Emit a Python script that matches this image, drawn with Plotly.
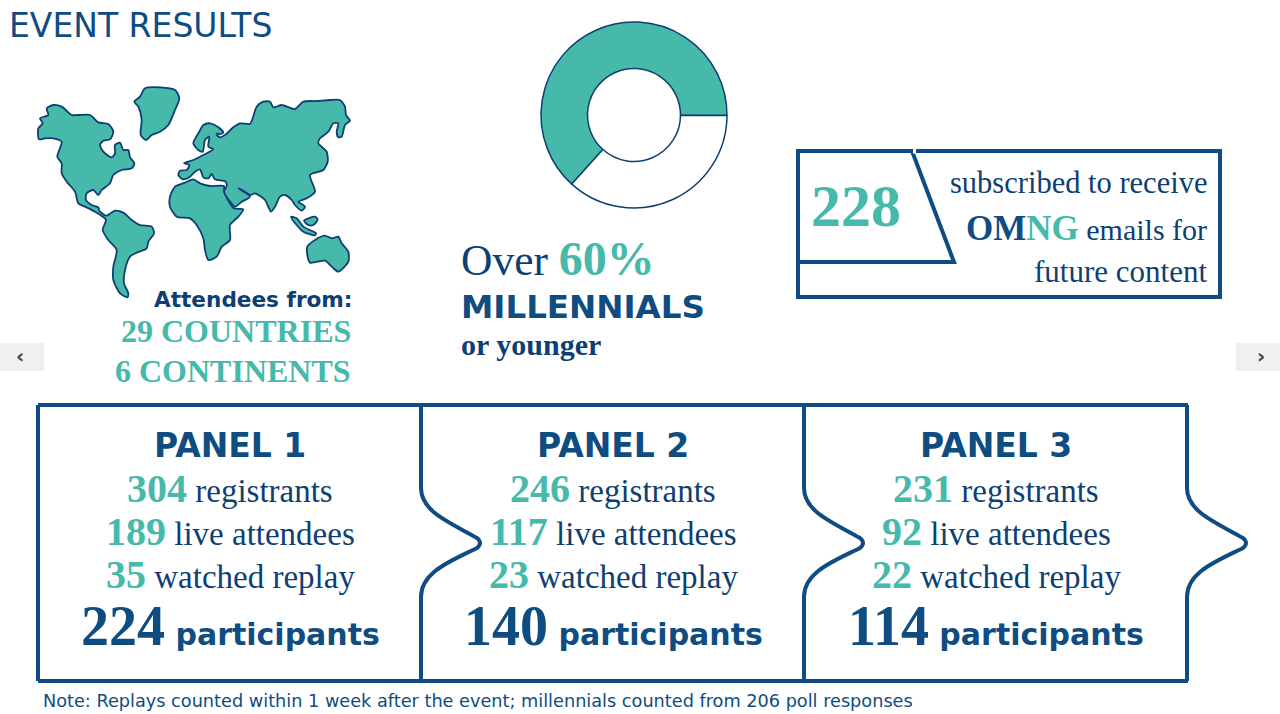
"""
Event results infographic: world map, millennial donut, subscribers box, three panels
"""
import plotly.graph_objects as go

TEAL = '#46B9AB'
NAVY = '#0F4C81'
DARK = '#0E3F73'
SERIF = 'Liberation Serif'
SANS = 'DejaVu Sans'

# donut
donut_labels = ['Millennials or younger', 'Older']
donut_values = [63.4, 36.6]

# panels
panel_names = ['PANEL 1', 'PANEL 2', 'PANEL 3']
registrants = [304, 246, 231]
live_attendees = [189, 117, 92]
watched_replay = [35, 23, 22]
participants = [224, 140, 114]

# map outlines
north_america = [(80, 115), (100, 105), (125, 110), (155, 135), (175, 135), (210, 135), (235, 157), (265, 162),
                 (280, 185), (270, 208), (250, 212), (240, 225), (250, 245), (275, 262), (285, 250), (285, 225),
                 (300, 218), (310, 240), (325, 240), (330, 262), (343, 280), (335, 295), (305, 300), (280, 315),
                 (270, 340), (245, 360), (235, 375), (220, 360), (200, 370), (198, 390), (215, 405), (235, 412),
                 (238, 422), (258, 437), (285, 422), (310, 428), (335, 450), (360, 465), (395, 470), (402, 490),
                 (385, 515), (380, 535), (350, 548), (330, 560), (315, 600), (312, 640), (325, 670), (322, 682),
                 (300, 670), (280, 630), (280, 590), (290, 540), (265, 510), (248, 480), (258, 450), (245, 438),
                 (225, 425), (195, 410), (175, 400), (165, 365), (140, 335), (125, 310), (125, 280), (112, 260),
                 (125, 215), (100, 205), (75, 205), (57, 208), (55, 175), (68, 160), (60, 145), (85, 135), (80, 115)]
greenland = [(375, 55), (420, 52), (465, 60), (478, 85), (465, 120), (445, 165), (420, 185), (395, 195), (378, 210),
             (362, 195), (365, 150), (355, 110), (343, 95), (360, 80), (375, 55)]
eurasia = [(520, 220), (538, 185), (550, 165), (570, 160), (595, 172), (610, 188), (598, 193), (592, 190), (590, 195),
           (600, 202), (615, 195), (640, 172), (660, 160), (690, 162), (698, 145), (710, 110), (730, 95), (750, 95),
           (760, 112), (785, 105), (825, 117), (850, 95), (890, 93), (930, 90), (960, 90), (975, 110), (978, 135),
           (990, 152), (975, 165), (965, 200), (955, 202), (950, 185), (955, 160), (940, 160), (925, 185), (900, 205),
           (895, 220), (920, 245), (923, 275), (910, 300), (870, 315), (885, 365), (860, 385), (835, 395), (855, 410),
           (845, 422), (825, 405), (815, 390), (795, 375), (780, 380), (765, 410), (753, 425), (735, 390), (705, 370),
           (690, 375), (675, 365), (655, 355), (690, 380), (665, 395), (645, 410), (630, 395), (612, 365), (620, 348),
           (617, 335), (585, 328), (575, 312), (565, 325), (550, 322), (540, 298), (525, 305), (508, 322), (488, 328),
           (475, 315), (480, 302), (500, 300), (508, 285), (492, 280), (520, 270), (550, 255), (580, 238), (565, 230),
           (568, 200), (555, 210), (548, 245), (535, 240), (520, 220)]
africa = [(450, 380), (465, 350), (495, 338), (520, 328), (540, 340), (570, 348), (612, 348), (612, 365), (642, 415),
          (670, 418), (655, 440), (630, 465), (630, 510), (605, 530), (590, 560), (565, 570), (555, 540), (550, 505),
          (530, 465), (510, 445), (470, 440), (450, 410), (450, 380)]
sumatra = [(813, 440), (830, 445), (850, 470), (888, 490), (885, 496), (850, 485), (830, 465), (813, 440)]
borneo = [(852, 452), (885, 440), (893, 448), (880, 465), (865, 465), (852, 452)]
australia = [(862, 530), (885, 510), (915, 497), (935, 505), (955, 500), (965, 520), (985, 545), (985, 575), (955, 605),
             (935, 590), (915, 572), (870, 578), (862, 555), (862, 530)]
land_masses = [north_america, greenland, eurasia, africa, sumatra, borneo, australia]


def span(text, color, family=SERIF, size=None, bold=False):
    style = f'color:{color};font-family:{family}'
    if size:
        style += f';font-size:{size}px'
    body = f'<b>{text}</b>' if bold else text
    return f'<span style="{style}">{body}</span>'


def label(fig, x, y, text, size, color=NAVY, family=SERIF, anchor='center'):
    fig.add_annotation(x=x, y=y, text=text, showarrow=False, xanchor=anchor, yanchor='middle',
                       font=dict(family=family, size=size, color=color), xref='x', yref='y')


def tab_path(x):
    """Panel divider: straight edge with an arrow tab sticking out to the right"""
    return (f'M {x} 405 L {x} 488 C {x} 512 {x + 30} 523 {x + 56} 538 Q {x + 62} 543 {x + 56} 548 '
            f'C {x + 30} 561 {x} 572 {x} 597 L {x} 681')


fig = go.Figure()

for land in land_masses:
    fig.add_trace(go.Scatter(
        x=[20 + p[0] / 3 for p in land], y=[70 + p[1] / 3 for p in land],
        mode='lines', fill='toself', fillcolor=TEAL, hoverinfo='skip',
        line=dict(color=DARK, width=1.8, shape='spline', smoothing=0.7)
    ))

fig.add_trace(go.Pie(
    labels=donut_labels, values=donut_values, hole=0.5, sort=False, direction='clockwise', rotation=222,
    marker=dict(colors=[TEAL, '#FFFFFF'], line=dict(color=DARK, width=1.5)), textinfo='none',
    domain=dict(x=[541 / 1280, 727 / 1280], y=[506 / 714, 692 / 714])
))

line_style = dict(color=NAVY, width=4)
fig.add_shape(type='rect', x0=798, x1=1220, y0=151, y1=297, line=line_style, fillcolor='white', layer='below')
fig.add_shape(type='path', path='M 798 151 L 912 151 L 954 262 L 798 262 Z', line=line_style, fillcolor='white', layer='below')
fig.add_shape(type='line', x0=913, x1=916, y0=151, y1=151, line=dict(color='white', width=5), layer='below')

fig.add_shape(type='line', x0=38, x1=1188, y0=405, y1=405, line=line_style, layer='below')
fig.add_shape(type='line', x0=38, x1=1188, y0=681, y1=681, line=line_style, layer='below')
fig.add_shape(type='line', x0=38, x1=38, y0=405, y1=681, line=line_style, layer='below')
for x in [421, 804, 1187]:
    fig.add_shape(type='path', path=tab_path(x), line=line_style, layer='below')

# slider buttons
fig.add_shape(type='rect', x0=0, x1=44, y0=343, y1=371, fillcolor='#F0F0F0', line_width=0, layer='below')
fig.add_shape(type='rect', x0=1236, x1=1280, y0=343, y1=371, fillcolor='#F0F0F0', line_width=0, layer='below')
label(fig, 20, 356, '<b>‹</b>', 20, '#444444', 'DejaVu Sans')
label(fig, 1261, 356, '<b>›</b>', 20, '#444444', 'DejaVu Sans')

label(fig, 7, 25, 'EVENT RESULTS', 33, NAVY, SANS, 'left')

label(fig, 355, 299, '<b>Attendees from:</b>', 21.6, DARK, SANS, 'right')
label(fig, 353, 331, '<b>29 COUNTRIES</b>', 32, TEAL, SERIF, 'right')
label(fig, 353, 371, '<b>6 CONTINENTS</b>', 32, TEAL, SERIF, 'right')

label(fig, 459, 258, 'Over ' + span('60%', TEAL, SERIF, 48, True), 43.5, DARK, SERIF, 'left')
label(fig, 459, 307, '<b>MILLENNIALS</b>', 32.5, NAVY, SANS, 'left')
label(fig, 459, 344, '<b>or younger</b>', 30, DARK, SERIF, 'left')

label(fig, 856, 206, '<b>228</b>', 60, TEAL, SERIF)
label(fig, 1209, 183, 'subscribed to receive', 30.5, DARK, SERIF, 'right')
label(fig, 1209, 228, span('OM', NAVY, SERIF, 35, True) + span('NG', TEAL, SERIF, 35, True) + ' emails for',
      30, DARK, SERIF, 'right')
label(fig, 1209, 271, 'future content', 31, DARK, SERIF, 'right')

for i, cx in enumerate([230, 613, 996]):
    label(fig, cx, 445, f'<b>{panel_names[i]}</b>', 33, NAVY, SANS)
    label(fig, cx, 488, span(registrants[i], TEAL, SERIF, 40, True) + ' registrants', 33, DARK)
    label(fig, cx, 531, span(live_attendees[i], TEAL, SERIF, 40, True) + ' live attendees', 33, DARK)
    label(fig, cx, 574, span(watched_replay[i], TEAL, SERIF, 40, True) + ' watched replay', 33, DARK)
    label(fig, cx, 626, span(participants[i], NAVY, SERIF, 56, True)
          + span(' participants', NAVY, SANS, 30, True), 30, NAVY)

label(fig, 41, 701, 'Note: Replays counted within 1 week after the event; millennials counted from 206 poll responses',
      17.7, NAVY, SANS, 'left')

fig.update_layout(
    width=1280, height=714, margin=dict(l=0, r=0, t=0, b=0), showlegend=False,
    paper_bgcolor='white', plot_bgcolor='white',
    xaxis=dict(range=[0, 1280], visible=False, fixedrange=True),
    yaxis=dict(range=[714, 0], visible=False, fixedrange=True),
)
fig.write_html('out.html', config=dict(displayModeBar=False),
               post_script="document.body.style.margin='0';document.body.style.overflow='hidden';")
